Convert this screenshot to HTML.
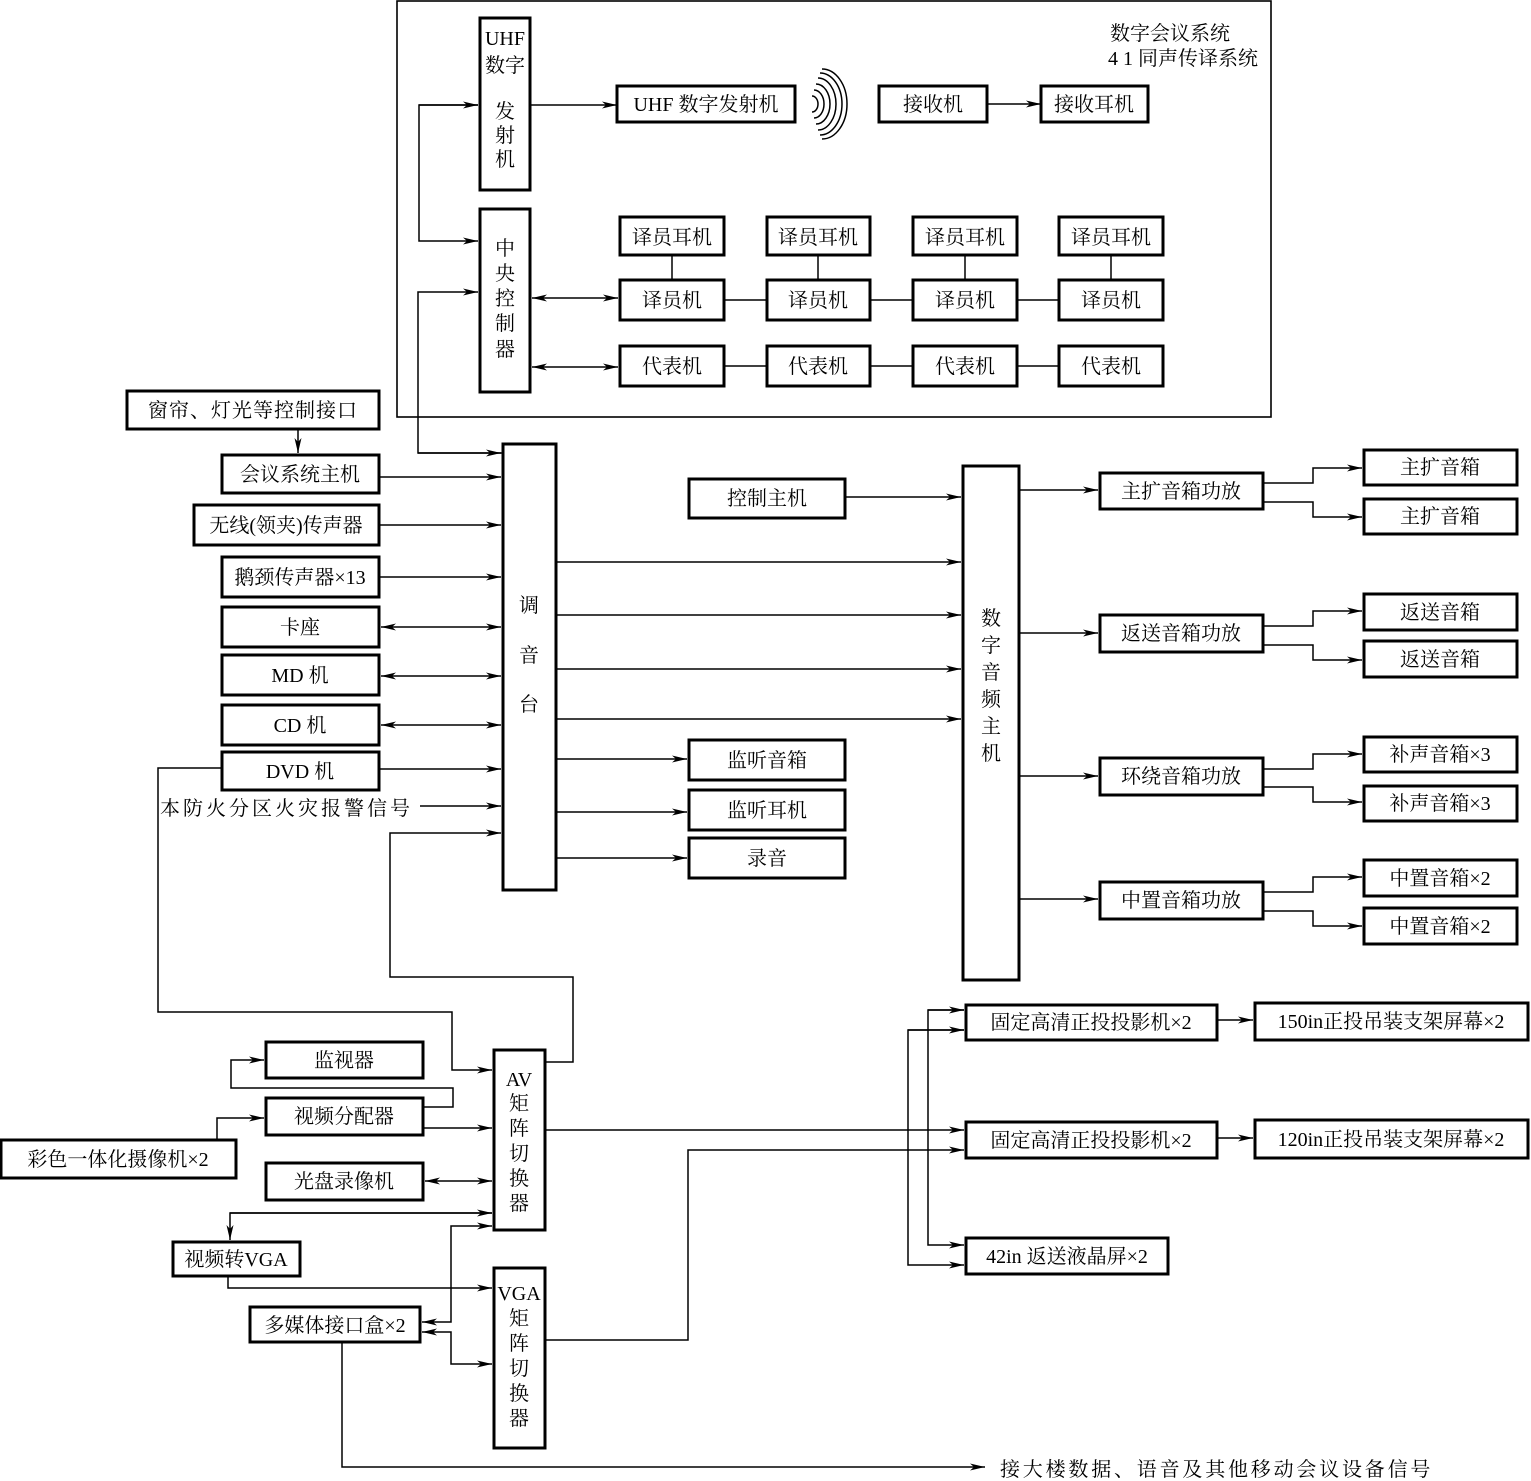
<!DOCTYPE html>
<html><head><meta charset="utf-8"><style>
html,body{margin:0;padding:0;background:#fff;}
svg{display:block;}
text{font-family:"Liberation Serif","Noto Serif CJK SC","Noto Sans CJK SC",serif;font-size:20px;fill:#000;}
</style></head><body>
<svg width="1531" height="1481" viewBox="0 0 1531 1481" xmlns="http://www.w3.org/2000/svg">
<defs>
<marker id="a" markerWidth="16" markerHeight="8" refX="15" refY="4" orient="auto" markerUnits="userSpaceOnUse">
<path d="M0,0.5 L15,4 L0,7.5 L4,4 Z" fill="#000"/></marker>
<marker id="s" markerWidth="16" markerHeight="8" refX="1" refY="4" orient="auto" markerUnits="userSpaceOnUse">
<path d="M16,0.5 L1,4 L16,7.5 L12,4 Z" fill="#000"/></marker>
</defs>
<g fill="none" stroke="#000" stroke-width="1.6">
<rect x="397" y="1" width="874" height="416" stroke-width="1.6"/>
</g>
<g fill="#fff" stroke="#000" stroke-width="3">
<rect x="480" y="18" width="50" height="172"/>
<rect x="617" y="86" width="178" height="36"/>
<rect x="879" y="86" width="108" height="36"/>
<rect x="1041" y="86" width="107" height="36"/>
<rect x="480" y="209" width="50" height="183"/>
<rect x="620" y="217" width="104" height="38"/><rect x="767" y="217" width="103" height="38"/><rect x="913" y="217" width="104" height="38"/><rect x="1059" y="217" width="104" height="38"/>
<rect x="620" y="280" width="104" height="40"/><rect x="767" y="280" width="103" height="40"/><rect x="913" y="280" width="104" height="40"/><rect x="1059" y="280" width="104" height="40"/>
<rect x="620" y="346" width="104" height="40"/><rect x="767" y="346" width="103" height="40"/><rect x="913" y="346" width="104" height="40"/><rect x="1059" y="346" width="104" height="40"/>
<rect x="127" y="391" width="252" height="38"/>
<rect x="222" y="455" width="157" height="38"/>
<rect x="194" y="505" width="185" height="40"/>
<rect x="222" y="557" width="157" height="40"/>
<rect x="222" y="607" width="157" height="40"/>
<rect x="222" y="655" width="157" height="40"/>
<rect x="222" y="705" width="157" height="40"/>
<rect x="222" y="752" width="157" height="38"/>
<rect x="503" y="444" width="53" height="446"/>
<rect x="689" y="479" width="156" height="39"/>
<rect x="689" y="740" width="156" height="40"/>
<rect x="689" y="790" width="156" height="40"/>
<rect x="689" y="838" width="156" height="40"/>
<rect x="963" y="466" width="56" height="514"/>
<rect x="1100" y="473" width="163" height="36"/>
<rect x="1100" y="615" width="163" height="37"/>
<rect x="1100" y="758" width="163" height="37"/>
<rect x="1100" y="882" width="163" height="37"/>
<rect x="1364" y="450" width="153" height="35"/><rect x="1364" y="499" width="153" height="35"/>
<rect x="1364" y="594" width="153" height="36"/><rect x="1364" y="641" width="153" height="36"/>
<rect x="1364" y="737" width="153" height="35"/><rect x="1364" y="786" width="153" height="35"/>
<rect x="1364" y="860" width="153" height="36"/><rect x="1364" y="908" width="153" height="36"/>
<rect x="966" y="1005" width="251" height="35"/>
<rect x="966" y="1122" width="251" height="36"/>
<rect x="966" y="1238" width="202" height="36"/>
<rect x="1255" y="1003" width="273" height="37"/>
<rect x="1255" y="1120" width="273" height="38"/>
<rect x="266" y="1042" width="157" height="36"/>
<rect x="266" y="1098" width="157" height="37"/>
<rect x="1" y="1140" width="235" height="38"/>
<rect x="266" y="1163" width="157" height="37"/>
<rect x="173" y="1242" width="127" height="34"/>
<rect x="250" y="1307" width="170" height="35"/>
<rect x="494" y="1050" width="51" height="180"/>
<rect x="494" y="1268" width="51" height="180"/>
</g>
<g fill="none" stroke="#000" stroke-width="1.5">
<path d="M812,96 A6,8 0 0 1 812,112"/>
<path d="M814,90 A10,14 0 0 1 814,118"/>
<path d="M816,84 A14,20 0 0 1 816,124"/>
<path d="M818,78 A18,26 0 0 1 818,130"/>
<path d="M820,73 A22,31 0 0 1 820,135"/>
<path d="M822,69 A25,35 0 0 1 822,139"/>
</g>
<g fill="none" stroke="#000" stroke-width="1.5">
<path d="M530,105 H617" marker-end="url(#a)"/>
<path d="M987,104 H1041" marker-end="url(#a)"/>
<path d="M478,105 H419 V241 H478" marker-end="url(#a)"/>
<path d="M419,105 H478" marker-end="url(#a)"/>
<path d="M503,453 H418 V292 H478" marker-end="url(#a)"/>
<path d="M418,453 H501" marker-end="url(#a)"/>
<path d="M532,298 H618" marker-start="url(#s)" marker-end="url(#a)"/>
<path d="M532,367 H618" marker-start="url(#s)" marker-end="url(#a)"/>
<path d="M672,255 V280 M818,255 V280 M965,255 V280 M1111,255 V280"/>
<path d="M724,300 H767 M870,300 H913 M1017,300 H1059"/>
<path d="M724,366 H767 M870,366 H913 M1017,366 H1059"/>
<path d="M298,429 V453" marker-end="url(#a)"/>
<path d="M379,477 H501" marker-end="url(#a)"/>
<path d="M379,525 H501" marker-end="url(#a)"/>
<path d="M379,577 H501" marker-end="url(#a)"/>
<path d="M381,627 H501" marker-start="url(#s)" marker-end="url(#a)"/>
<path d="M381,676 H501" marker-start="url(#s)" marker-end="url(#a)"/>
<path d="M381,725 H501" marker-start="url(#s)" marker-end="url(#a)"/>
<path d="M379,769 H501" marker-end="url(#a)"/>
<path d="M420,806 H501" marker-end="url(#a)"/>
<path d="M545,1062 H573 V977 H390 V833 H501" marker-end="url(#a)"/>
<path d="M222,768 H158 V1012 H452 V1070 H492" marker-end="url(#a)"/>
<path d="M556,562 H961" marker-end="url(#a)"/>
<path d="M556,615 H961" marker-end="url(#a)"/>
<path d="M556,669 H961" marker-end="url(#a)"/>
<path d="M556,719 H961" marker-end="url(#a)"/>
<path d="M845,497 H961" marker-end="url(#a)"/>
<path d="M556,759 H687" marker-end="url(#a)"/>
<path d="M556,812 H687" marker-end="url(#a)"/>
<path d="M556,858 H687" marker-end="url(#a)"/>
<path d="M1019,490 H1098" marker-end="url(#a)"/>
<path d="M1019,633 H1098" marker-end="url(#a)"/>
<path d="M1019,776 H1098" marker-end="url(#a)"/>
<path d="M1019,899 H1098" marker-end="url(#a)"/>
<path d="M1263,483 H1313 V468 H1362" marker-end="url(#a)"/>
<path d="M1263,502 H1313 V517 H1362" marker-end="url(#a)"/>
<path d="M1263,626 H1313 V611 H1362" marker-end="url(#a)"/>
<path d="M1263,645 H1313 V660 H1362" marker-end="url(#a)"/>
<path d="M1263,769 H1313 V754 H1362" marker-end="url(#a)"/>
<path d="M1263,787 H1313 V802 H1362" marker-end="url(#a)"/>
<path d="M1263,892 H1313 V877 H1362" marker-end="url(#a)"/>
<path d="M1263,911 H1313 V926 H1362" marker-end="url(#a)"/>
<path d="M423,1107 H453 V1088 H231 V1060 H264" marker-end="url(#a)"/>
<path d="M217,1140 V1118 H264" marker-end="url(#a)"/>
<path d="M423,1128 H492" marker-end="url(#a)"/>
<path d="M425,1181 H492" marker-start="url(#s)" marker-end="url(#a)"/>
<path d="M492,1213 H230 V1240" marker-end="url(#a)"/>
<path d="M230,1213 H492" marker-end="url(#a)"/>
<path d="M228,1276 V1288 H492" marker-end="url(#a)"/>
<path d="M422,1322 H451 V1226 H492" marker-start="url(#s)" marker-end="url(#a)"/>
<path d="M422,1332 H451 V1364 H492" marker-start="url(#s)" marker-end="url(#a)"/>
<path d="M342,1342 V1467 H985" marker-end="url(#a)"/>
<path d="M545,1130 H964" marker-end="url(#a)"/>
<path d="M545,1340 H688 V1150 H964" marker-end="url(#a)"/>
<path d="M964,1010 H928 V1245 H964" marker-end="url(#a)"/>
<path d="M928,1010 H964" marker-end="url(#a)"/>
<path d="M964,1030 H908 V1265 H964" marker-end="url(#a)"/>
<path d="M908,1030 H964" marker-end="url(#a)"/>
<path d="M1217,1020 H1253" marker-end="url(#a)"/>
<path d="M1217,1138 H1253" marker-end="url(#a)"/>
</g>
<g>
<text x="1170" y="40" text-anchor="middle">数字会议系统</text>
<text x="1258" y="65" text-anchor="end">4  1 同声传译系统</text>
<text x="505" y="45" text-anchor="middle" font-size="19">UHF</text>
<text x="505" y="72" text-anchor="middle">数字</text>
<text x="505" y="118" text-anchor="middle">发</text>
<text x="505" y="142" text-anchor="middle">射</text>
<text x="505" y="166" text-anchor="middle">机</text>
<text x="706" y="111" text-anchor="middle">UHF 数字发射机</text>
<text x="933" y="111" text-anchor="middle">接收机</text>
<text x="1094" y="111" text-anchor="middle">接收耳机</text>
<text x="505" y="255" text-anchor="middle">中</text>
<text x="505" y="280" text-anchor="middle">央</text>
<text x="505" y="305" text-anchor="middle">控</text>
<text x="505" y="330" text-anchor="middle">制</text>
<text x="505" y="356" text-anchor="middle">器</text>
<g text-anchor="middle">
<text x="672" y="244">译员耳机</text><text x="818" y="244">译员耳机</text><text x="965" y="244">译员耳机</text><text x="1111" y="244">译员耳机</text>
<text x="672" y="307">译员机</text><text x="818" y="307">译员机</text><text x="965" y="307">译员机</text><text x="1111" y="307">译员机</text>
<text x="672" y="373">代表机</text><text x="818" y="373">代表机</text><text x="965" y="373">代表机</text><text x="1111" y="373">代表机</text>
<text x="253" y="417" letter-spacing="1">窗帘、灯光等控制接口</text>
<text x="300" y="481">会议系统主机</text>
<text x="286" y="532">无线(领夹)传声器</text>
<text x="300" y="584">鹅颈传声器×13</text>
<text x="300" y="634">卡座</text>
<text x="300" y="682">MD 机</text>
<text x="300" y="732">CD 机</text>
<text x="300" y="778">DVD 机</text>
<text x="529" y="612">调</text>
<text x="529" y="662">音</text>
<text x="529" y="711">台</text>
<text x="767" y="505">控制主机</text>
<text x="767" y="767">监听音箱</text>
<text x="767" y="817">监听耳机</text>
<text x="767" y="865">录音</text>
<text x="991" y="625">数</text><text x="991" y="652">字</text><text x="991" y="679">音</text><text x="991" y="706">频</text><text x="991" y="733">主</text><text x="991" y="760">机</text>
<text x="1181" y="498">主扩音箱功放</text>
<text x="1181" y="640">返送音箱功放</text>
<text x="1181" y="783">环绕音箱功放</text>
<text x="1181" y="907">中置音箱功放</text>
<text x="1440" y="474">主扩音箱</text><text x="1440" y="523">主扩音箱</text>
<text x="1440" y="619">返送音箱</text><text x="1440" y="666">返送音箱</text>
<text x="1440" y="761">补声音箱×3</text><text x="1440" y="810">补声音箱×3</text>
<text x="1440" y="885">中置音箱×2</text><text x="1440" y="933">中置音箱×2</text>
<text x="1091" y="1029">固定高清正投投影机×2</text>
<text x="1091" y="1147">固定高清正投投影机×2</text>
<text x="1067" y="1263">42in 返送液晶屏×2</text>
<text x="1391" y="1028">150in正投吊装支架屏幕×2</text>
<text x="1391" y="1146">120in正投吊装支架屏幕×2</text>
<text x="344" y="1067">监视器</text>
<text x="344" y="1123">视频分配器</text>
<text x="118" y="1166">彩色一体化摄像机×2</text>
<text x="344" y="1188">光盘录像机</text>
<text x="236" y="1266">视频转VGA</text>
<text x="335" y="1332">多媒体接口盒×2</text>
<text x="519" y="1086">AV</text><text x="519" y="1110">矩</text><text x="519" y="1135">阵</text><text x="519" y="1160">切</text><text x="519" y="1185">换</text><text x="519" y="1210">器</text>
<text x="519" y="1300">VGA</text><text x="519" y="1325">矩</text><text x="519" y="1350">阵</text><text x="519" y="1375">切</text><text x="519" y="1400">换</text><text x="519" y="1425">器</text>
</g>
<text x="160" y="815" letter-spacing="3">本防火分区火灾报警信号</text>
<text x="1000" y="1476" letter-spacing="2.8">接大楼数据、语音及其他移动会议设备信号</text>
</g>
</svg>
</body></html>
